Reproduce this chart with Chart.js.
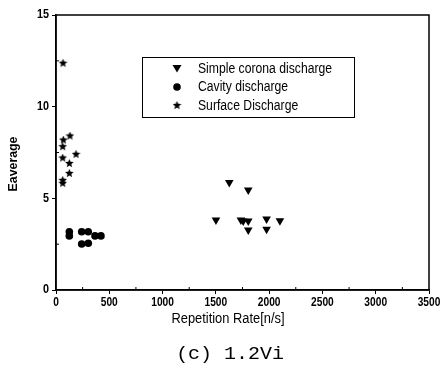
<!DOCTYPE html>
<html>
<head>
<meta charset="utf-8">
<script src="https://cdn.jsdelivr.net/npm/chart.js@4.4.1/dist/chart.umd.min.js"></script>
<style>
html,body{margin:0;padding:0;background:#fff;}
#wrap{width:448px;height:378px;position:relative;}
</style>
</head>
<body>
<div id="wrap"><canvas id="c" width="448" height="378"></canvas></div>
<script>
// ---- data ----
const coronaX = [1626, 1804, 1501, 1735, 1757, 1804, 1804, 1976, 2101, 1976];
const coronaY = [5.87, 5.45, 3.82, 3.82, 3.76, 3.76, 3.27, 3.87, 3.78, 3.31];
const cavityX = [125, 125, 241, 303, 241, 303, 366, 422];
const cavityY = [3.18, 2.95, 3.18, 3.18, 2.51, 2.55, 2.95, 2.95];
const surfaceX = [66, 69, 131, 63, 188, 63, 125, 125, 63, 63];
const surfaceY = [12.37, 8.18, 8.4, 7.82, 7.4, 7.2, 6.9, 6.36, 5.98, 5.82];
const seriesLabels = ['Simple corona discharge', 'Cavity discharge', 'Surface Discharge'];
const xTicks = [0, 500, 1000, 1500, 2000, 2500, 3000, 3500];
const yTicks = [0, 5, 10, 15];
const xTitle = 'Repetition Rate[n/s]';
const yTitle = 'Eaverage';
const caption = '(c) 1.2Vi';

function pts(xs, ys){ return xs.map((x,i)=>({x:x, y:ys[i]})); }

function makeStar(size){
  const c = document.createElement('canvas');
  c.width = size; c.height = size;
  const g = c.getContext('2d');
  const cx = size/2, cy = size/2, R = size/2, r = R*0.45;
  g.beginPath();
  for(let i=0;i<10;i++){
    const a = -Math.PI/2 + i*Math.PI/5;
    const rr = i%2===0 ? R : r;
    g.lineTo(cx + rr*Math.cos(a), cy + rr*Math.sin(a));
  }
  g.closePath();
  g.fillStyle = '#000';
  g.fill();
  return c;
}
const starImg = makeStar(9);

const FONT = '"Liberation Sans", Arial, sans-serif';

function sText(ctx, text, x, y, sx, align){
  ctx.save();
  ctx.translate(x, y);
  ctx.scale(sx, 1);
  ctx.textAlign = align;
  ctx.fillText(text, 0, 0);
  ctx.restore();
}

const framePlugin = {
  id: 'frame',
  afterDraw(chart){
    const ctx = chart.ctx, a = chart.chartArea;
    const xs = chart.scales.x, ys = chart.scales.y;
    ctx.save();
    ctx.strokeStyle = '#000';
    ctx.fillStyle = '#000';
    ctx.lineWidth = 1.5;
    ctx.strokeRect(a.left, a.top, a.right - a.left, a.bottom - a.top);
    ctx.lineWidth = 1;
    for(let v=250; v<3500; v+=500){
      const px = xs.getPixelForValue(v);
      ctx.beginPath(); ctx.moveTo(px, a.bottom); ctx.lineTo(px, a.bottom-3); ctx.stroke();
    }
    for(let v=2.5; v<15; v+=5){
      const py = ys.getPixelForValue(v);
      ctx.beginPath(); ctx.moveTo(a.left, py); ctx.lineTo(a.left+3, py); ctx.stroke();
    }
    ctx.font = 'bold 12px ' + FONT;
    ctx.textBaseline = 'middle';
    xTicks.forEach(v => sText(ctx, String(v), xs.getPixelForValue(v), a.bottom + 13, 0.85, 'center'));
    yTicks.forEach(v => sText(ctx, String(v), a.left - 7, ys.getPixelForValue(v), 0.9, 'right'));
    const bx = 142, by = 57, bw = 212, bh = 60;
    ctx.lineWidth = 1;
    ctx.strokeRect(bx+0.5, by+0.5, bw, bh);
    const rows = [68.5, 87, 105.5];
    ctx.font = '14px ' + FONT;
    chart.data.datasets.forEach((ds, i) => {
      const mx = 177, my = rows[i];
      if(i===0){
        ctx.beginPath();
        ctx.moveTo(mx-4.5, my-3.5); ctx.lineTo(mx+4.5, my-3.5); ctx.lineTo(mx, my+4); ctx.closePath(); ctx.fill();
      } else if(i===1){
        ctx.beginPath(); ctx.arc(mx, my, 3.8, 0, Math.PI*2); ctx.fill();
      } else {
        ctx.drawImage(starImg, mx-4.5, my-4.5);
      }
      sText(ctx, ds.label, 198, my+0.5, 0.87, 'left');
    });
    ctx.font = '14px ' + FONT;
    sText(ctx, xTitle, 228, 319, 0.92, 'center');
    ctx.save();
    ctx.translate(13, 164);
    ctx.rotate(-Math.PI/2);
    ctx.font = 'bold 13px ' + FONT;
    sText(ctx, yTitle, 0, 0, 0.95, 'center');
    ctx.restore();
    ctx.font = '19px "Liberation Mono", "DejaVu Sans Mono", monospace';
    sText(ctx, caption, 230, 354, 1.05, 'center');
    ctx.restore();
  }
};

new Chart(document.getElementById('c'), {
  type: 'scatter',
  data: {
    datasets: [
      { label: seriesLabels[0], data: pts(coronaX, coronaY), pointStyle: 'triangle', rotation: 180,
        pointRadius: 5, backgroundColor: '#000', borderColor: '#000', borderWidth: 0 },
      { label: seriesLabels[1], data: pts(cavityX, cavityY), pointStyle: 'circle',
        pointRadius: 3.8, backgroundColor: '#000', borderColor: '#000', borderWidth: 0 },
      { label: seriesLabels[2], data: pts(surfaceX, surfaceY), pointStyle: starImg,
        pointRadius: 4.5, backgroundColor: '#000', borderColor: '#000', borderWidth: 0 }
    ]
  },
  options: {
    responsive: false,
    animation: false,
    events: [],
    layout: { padding: { top: 15, right: 19, left: 0, bottom: 0 } },
    plugins: { legend: { display: false }, tooltip: { enabled: false } },
    scales: {
      x: {
        type: 'linear', min: 0, max: 3500,
        afterBuildTicks: s => { s.ticks = xTicks.map(v => ({value: v})); },
        afterFit: s => { s.height = 88; },
        grid: { drawOnChartArea: false, drawTicks: true, tickLength: 4, color: '#000', lineWidth: 1 },
        border: { display: true, color: '#000', width: 1.5 },
        ticks: { color: 'rgba(0,0,0,0)', callback: v => String(v), font: { family: FONT, size: 12, weight: 'bold' }, padding: 1, maxRotation: 0 }
      },
      y: {
        type: 'linear', min: 0, max: 15,
        afterBuildTicks: s => { s.ticks = yTicks.map(v => ({value: v})); },
        afterFit: s => { s.width = 56; },
        grid: { drawOnChartArea: false, drawTicks: true, tickLength: 4, color: '#000', lineWidth: 1 },
        border: { display: true, color: '#000', width: 1.5 },
        ticks: { color: 'rgba(0,0,0,0)', callback: v => String(v), font: { family: FONT, size: 12, weight: 'bold' }, padding: 2 }
      }
    }
  },
  plugins: [framePlugin]
});
</script>
</body>
</html>
